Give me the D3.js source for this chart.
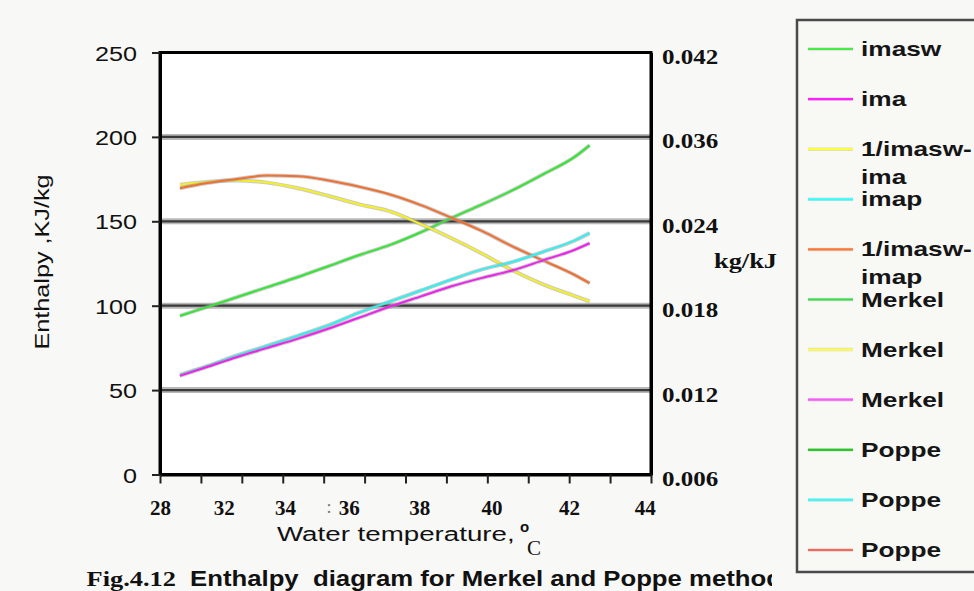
<!DOCTYPE html>
<html><head><meta charset="utf-8">
<script src="https://cdn.jsdelivr.net/npm/d3@7"></script>
<style>
html,body{margin:0;padding:0;background:#f8f8f6;}
svg{display:block;}
</style></head>
<body>
<script>
// ---------- data ----------
const temperature   = [28.65, 29.5, 30.5, 31.5, 32.5, 33.5, 34.5, 35.5, 36.5, 37.5, 38.5, 39.5, 40.5, 41.5, 42.0];
const imasw         = [94, 99, 105, 111, 117, 123.5, 130, 136, 143.5, 152, 160, 168.5, 178, 188, 195];
const ima           = [58.5, 63.5, 69.5, 75, 80.5, 86.5, 93, 99.5, 105.5, 111.5, 116.5, 121, 127, 133, 137];
const imap          = [59, 64, 70.5, 76.3, 82.3, 88.5, 96, 102.5, 109, 115.5, 121.5, 126, 132, 138.5, 143];
const invImaswIma   = [0.0292, 0.0296, 0.0298, 0.0295, 0.0287, 0.0276, 0.0264, 0.0254, 0.0238, 0.0228, 0.0217, 0.0205, 0.0195, 0.0187, 0.0183];
const invImaswImap  = [0.0287, 0.0294, 0.0300, 0.0305, 0.0304, 0.0298, 0.0289, 0.0278, 0.0263, 0.0245, 0.0233, 0.0222, 0.0212, 0.0202, 0.0196];

const leftTicks     = [0, 50, 100, 150, 200, 250];
const rightTicks    = [0.006, 0.012, 0.018, 0.024, 0.036, 0.042];
const rightTickText = ["0.006", "0.012", "0.018", "0.024", "0.036", "0.042"];
const xTickLabels   = ["28", "32", "34", "36", "38", "40", "42", "44"];
const xTickLabelAt  = [28, 30.08, 32.07, 34.15, 36.45, 38.8, 41.33, 43.8];
const gridValues    = [50, 100, 150, 200];

const legendNames   = [["imasw"], ["ima"], ["1/imasw-", "ima"], ["imap"], ["1/imasw-", "imap"],
                       ["Merkel"], ["Merkel"], ["Merkel"], ["Poppe"], ["Poppe"], ["Poppe"]];
const legendColors  = ["#44ee44", "#ff22ff", "#ffff33", "#33ffff", "#ff7733",
                       "#33dd44", "#ffff44", "#ff55ff", "#22cc22", "#33ffff", "#ff6655"];

// ---------- setup ----------
const W = 974, H = 591;
const svg = d3.select("body").append("svg").attr("width", W).attr("height", H);
svg.append("rect").attr("width", W).attr("height", H).attr("fill", "#f8f8f6");

const x  = d3.scaleLinear().domain([28, 44]).range([160, 651]);
const yL = d3.scaleLinear().domain([0, 250]).range([474.5, 52.5]);
const yR = d3.scaleLinear().domain(rightTicks).range(leftTicks.map(v => yL(v)));

const SANS = "Arial, 'Liberation Sans', Helvetica, sans-serif";
const SERIF = "'Times New Roman', 'Liberation Serif', serif";

function stext(parent, px, py, str, o) {
  const g = parent.append("g").attr("transform", `translate(${px},${py})${o.rotate ? ` rotate(${o.rotate})` : ""}`);
  return g.append("text")
    .attr("transform", `scale(${o.sx || 1},1)`)
    .attr("text-anchor", o.anchor || "start")
    .attr("font-family", o.family || SANS)
    .attr("font-size", o.size || 20)
    .attr("font-weight", o.weight || "normal")
    .attr("fill", o.fill || "#111")
    .style("white-space", "pre")
    .text(str);
}

// plot background
svg.append("rect").attr("x", x(28)).attr("y", yL(250))
  .attr("width", x(44) - x(28)).attr("height", yL(0) - yL(250)).attr("fill", "#ffffff");

// gridlines
const grid = svg.append("g");
grid.selectAll("line.halo").data(gridValues).join("line")
  .attr("x1", x(28)).attr("x2", x(44)).attr("y1", d => yL(d)).attr("y2", d => yL(d))
  .attr("stroke", "#b8b8b8").attr("stroke-width", 6);
grid.selectAll("line.core").data(gridValues).join("line")
  .attr("x1", x(28)).attr("x2", x(44)).attr("y1", d => yL(d)).attr("y2", d => yL(d))
  .attr("stroke", "#3a3a3a").attr("stroke-width", 2.2);

// lines
const seriesDefs = [
  { vals: imasw, scale: yL, color: "#33e633" },
  { vals: invImaswIma, scale: yR, color: "#f5f020" },
  { vals: invImaswImap, scale: yR, color: "#f07030" },
  { vals: imap, scale: yL, color: "#33f0f0" },
  { vals: ima, scale: yL, color: "#ee22ee" }
];
const linesG = svg.append("g");
seriesDefs.forEach(s => {
  const gen = d3.line().x((d, i) => x(temperature[i])).y(d => s.scale(d)).curve(d3.curveMonotoneX);
  linesG.append("path").attr("d", gen(s.vals)).attr("fill", "none")
    .attr("stroke", "#a0a0a0").attr("stroke-opacity", 0.55).attr("stroke-width", 4);
  linesG.append("path").attr("d", gen(s.vals)).attr("fill", "none")
    .attr("stroke", s.color).attr("stroke-width", 2);
});

// frame
svg.append("rect").attr("x", x(28)).attr("y", yL(250))
  .attr("width", x(44) - x(28)).attr("height", yL(0) - yL(250))
  .attr("fill", "none").attr("stroke", "#000").attr("stroke-width", 3);

// left axis
const gl = svg.append("g").attr("transform", `translate(${x(28)},0)`)
  .call(d3.axisLeft(yL).tickValues(leftTicks).tickSize(8).tickSizeOuter(0));
gl.select(".domain").attr("stroke", "#000").attr("stroke-width", 3);
gl.selectAll(".tick line").attr("stroke", "#222").attr("stroke-width", 2);
gl.selectAll(".tick text").attr("x", 0).attr("dy", null)
  .attr("transform", "translate(-23,7.5) scale(1.2,1)")
  .attr("text-anchor", "end").attr("font-family", SANS).attr("font-size", 21).attr("fill", "#111");

// right axis
const gr = svg.append("g").attr("transform", `translate(${x(44)},0)`)
  .call(d3.axisRight(yR).tickValues(rightTicks).tickSize(0).tickSizeOuter(0)
        .tickFormat((d, i) => rightTickText[i]));
gr.select(".domain").attr("stroke", "#000").attr("stroke-width", 3);
gr.selectAll(".tick text").attr("x", 0).attr("dy", null)
  .attr("transform", "translate(11,11) scale(1.25,1)")
  .attr("text-anchor", "start").attr("font-family", SERIF).attr("font-weight", "bold")
  .attr("font-size", 20).attr("fill", "#111");

// bottom axis ticks
const gb = svg.append("g").attr("transform", `translate(0,${yL(0)})`)
  .call(d3.axisBottom(x).tickValues(d3.range(13).map(i => 28 + i * 16 / 12))
        .tickSize(9).tickSizeOuter(0).tickFormat(""));
gb.select(".domain").attr("stroke", "#000").attr("stroke-width", 3);
gb.selectAll(".tick line").attr("stroke", "#222").attr("stroke-width", 2);

// bottom axis labels (placed as in the original picture)
const gbl = svg.append("g").attr("transform", `translate(0,${yL(0)})`)
  .call(d3.axisBottom(x).tickValues(xTickLabelAt).tickSize(0).tickFormat((d, i) => xTickLabels[i]));
gbl.select(".domain").remove();
gbl.selectAll(".tick text").attr("y", 0).attr("dy", null)
  .attr("transform", "translate(0,40)")
  .attr("font-family", SERIF).attr("font-weight", "bold").attr("font-size", 21).attr("fill", "#111");
// stray mark before 36
stext(svg, 329, 513, ":", { family: SERIF, size: 18, fill: "#777", anchor: "middle" });

// axis titles
stext(svg, 49, 262, "Enthalpy ,KJ/kg", { rotate: -90, sx: 1.2, size: 21, anchor: "middle" });
stext(svg, 277, 541, "Water temperature,", { sx: 1.32, size: 21 });
stext(svg, 520, 532, "o", { size: 15, weight: "bold" });
stext(svg, 527, 555, "C", { family: SERIF, size: 21 });
stext(svg, 714, 268, "kg/kJ", { family: SERIF, weight: "bold", size: 20, sx: 1.32 });

// caption
stext(svg, 176, 586, "Fig.4.12", { family: SERIF, weight: "bold", size: 22, sx: 1.2, anchor: "end" });
svg.append("clipPath").attr("id", "capclip").append("rect").attr("x", 0).attr("y", 550).attr("width", 772).attr("height", 41);
const capG = svg.append("g").attr("clip-path", "url(#capclip)");
stext(capG, 190, 586, "Enthalpy  diagram for Merkel and Poppe method", { weight: "bold", size: 22, sx: 1.17 });

// legend
const lg = svg.append("g");
lg.append("rect").attr("x", 797).attr("y", 20).attr("width", 200).attr("height", 552)
  .attr("fill", "#f8f8f5").attr("stroke", "#4a4a4a").attr("stroke-width", 2.5);
const ly = d3.scaleLinear().domain([0, legendNames.length - 1]).range([49, 550]);
legendNames.forEach((lines, i) => {
  const yy = ly(i);
  lg.append("line").attr("x1", 808).attr("x2", 853).attr("y1", yy).attr("y2", yy)
    .attr("stroke", "#bbb").attr("stroke-width", 3.5).attr("stroke-opacity", 0.5);
  lg.append("line").attr("x1", 808).attr("x2", 853).attr("y1", yy).attr("y2", yy)
    .attr("stroke", legendColors[i]).attr("stroke-width", 2.2);
  lines.forEach((t, j) => {
    stext(lg, 861, yy + 7 + j * 28, t, { weight: "bold", size: 21, sx: 1.25, fill: "#151515" });
  });
});
</script>
</body></html>
